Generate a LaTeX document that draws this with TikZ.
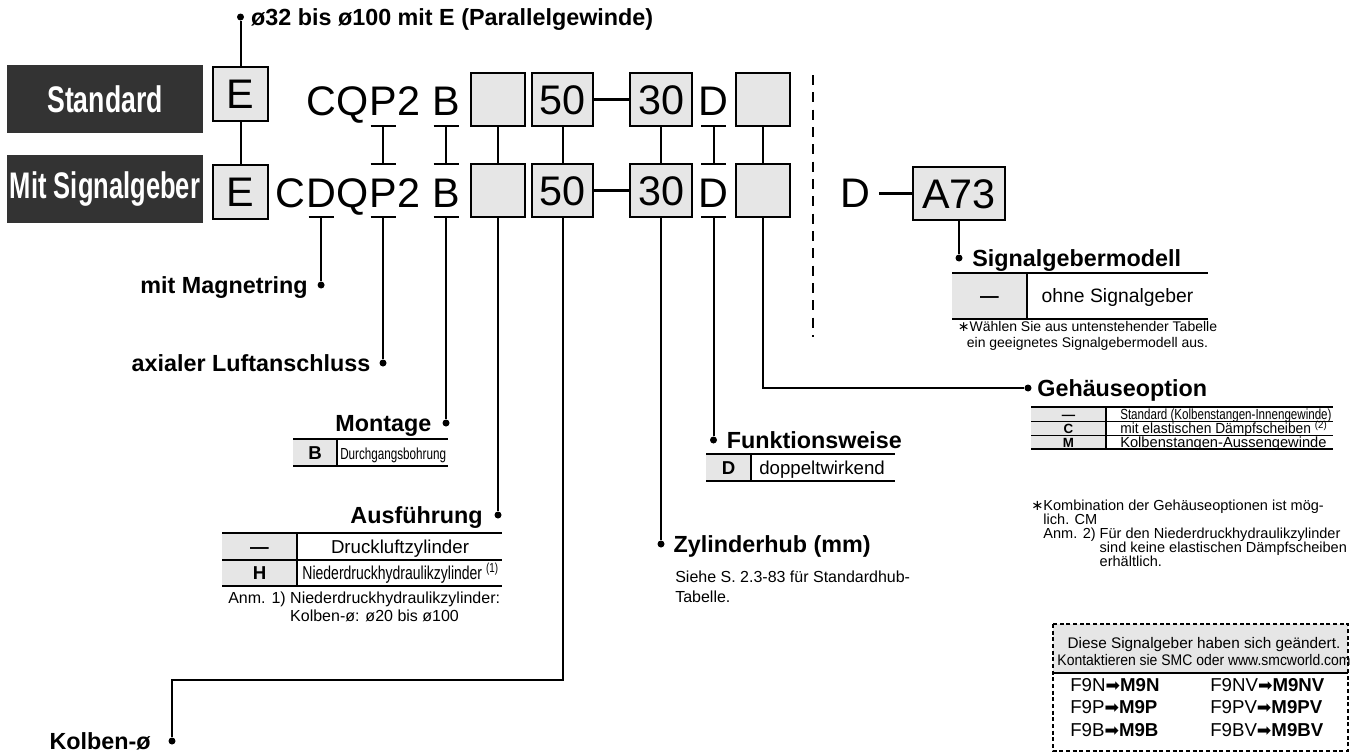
\documentclass[tikz,border=0pt]{standalone}
\usepackage{fontspec}
\setmainfont{Liberation Sans}
\newfontfamily\symfont{DejaVu Sans}
\usepackage{graphicx}
\usetikzlibrary{positioning, calc}
\definecolor{cellgray}{HTML}{E6E6E6}
\definecolor{tagdark}{HTML}{333333}
\newcommand{\fsz}[2]{\fontsize{#1}{#2}\selectfont}
\newcommand{\squeeze}[2]{\scalebox{#1}[1]{#2}}
\newcommand{\starmark}{{\symfont ∗}}
\newcommand{\swaparrow}{{\symfont\fsz{13pt}{13pt}➡}}
\newcommand{\barlink}[2]{%
	\draw[link] ($(#1.base)+(-12.5,11)$) -- ++(25,0)
	($(#1.base)+(0,11)$) -- ($(#2.base)+(0,-43)$)
	($(#2.base)+(-12.5,-43)$) -- ++(25,0);}
\newcommand{\downbar}[2]{%
	\draw[link] ($(#1.base)+(-12.5,10)$) -- ++(25,0)
	($(#1.base)+(0,10)$) -- (#2);}
\tikzset{
	link/.style={line width=1.5pt},
	heavylink/.style={line width=2.4pt},
	optbox/.style={draw, line width=1.5pt, fill=cellgray, minimum width=40.5pt, minimum height=39.75pt, inner sep=0pt, text height=22.2pt, text depth=0pt, font=\fsz{31pt}{31pt}},
	code/.style={inner sep=0pt, anchor=base, font=\fsz{31pt}{31pt}},
	tagbox/.style={fill=tagdark, text=white, minimum width=147pt, minimum height=51pt, inner sep=0pt, font=\bfseries\fsz{27.75pt}{27.75pt}},
	dot/.style={circle, fill, inner sep=0pt, minimum size=5.25pt},
	lbl/.style={inner sep=0pt, text height=12.5pt, text depth=0pt, font=\bfseries\fsz{17.5pt}{20pt}},
	cellkey/.style={inner sep=0pt, text height=10pt, text depth=0pt, font=\bfseries\fsz{14pt}{14pt}},
	celltxt/.style={inner sep=0pt, text height=10pt, text depth=0pt, font=\fsz{14pt}{14pt}},
	smallkey/.style={cellkey, text height=7.2pt, font=\bfseries\fsz{10pt}{10pt}},
	smalltxt/.style={celltxt, anchor=west, text height=7.8pt, font=\fsz{11pt}{11pt}},
	swapitem/.style={inner sep=0pt, anchor=west, font=\fsz{14pt}{14pt}},
	thickrule/.style={line width=1.6pt},
	thinrule/.style={line width=0.8pt},
	note/.style={inner sep=0pt, align=left, font=\fsz{12pt}{13.5pt}}
}
\begin{document}
\begin{tikzpicture}[x=0.75pt, y=-0.75pt]
	\useasboundingbox (0,0) rectangle (1358,753);

	\node[tagbox] (tagStd) at (105,99) {\squeeze{0.72}{Standard}};
	\node[tagbox] (tagSig) at (105,189) {\squeeze{0.69}{Mit Signalgeber}};

	\begin{scope}
		\node[optbox, minimum width=41.25pt, minimum height=40.5pt] (eT) at (240.5,94) {E};
		\node[code] (pT) at (383,115) {P};
		\node[code, base left=0pt of pT] (cqT) {CQ};
		\node[code, base right=0pt of pT] (twoT) {2};
		\node[code] (bT) at (446,115) {B};
		\node[optbox] (emT) at (498,99.5) {};
		\node[optbox, minimum width=46pt] (fiftyT) at (562.5,99.5) {50};
		\node[optbox, minimum width=46pt] (thirtyT) at (661,99.5) {30};
		\node[code] (dT) at (713.5,115) {D};
		\node[optbox] (caseT) at (763,99.5) {};
	\end{scope}

	\begin{scope}
		\node[optbox, minimum width=41.25pt, minimum height=40.5pt] (eB) at (240.5,192) {E};
		\node[code] (pB) at (383,207) {P};
		\node[code, base left=0pt of pB] (qB) {Q};
		\node[code, base left=0pt of qB] (dmB) {D};
		\node[code, base left=0pt of dmB] (cB) {C};
		\node[code, base right=0pt of pB] (twoB) {2};
		\node[code] (bB) at (446,207) {B};
		\node[optbox] (emB) at (498,190.5) {};
		\node[optbox, minimum width=46pt] (fiftyB) at (562.5,190.5) {50};
		\node[optbox, minimum width=46pt] (thirtyB) at (661,190.5) {30};
		\node[code] (dB) at (713.5,207) {D};
		\node[optbox] (caseB) at (763,190.5) {};
		\node[code] (dR) at (855,207) {D};
		\node[optbox, minimum width=69pt] (a73) at (959,193.5) {A73};
	\end{scope}

	\draw[link, dash pattern=on 7.5pt off 5.5pt] (813,75) -- (813,337);

	\draw[heavylink] (fiftyT) -- (thirtyT);
	\draw[heavylink] (fiftyB) -- (thirtyB);
	\draw[heavylink] ([xshift=6.5pt]dR.east |- a73.west) -- (a73.west);

	\draw[link] (eT) -- (eB);
	\draw[link] (emT) -- (emB);
	\draw[link] (fiftyT) -- (fiftyB);
	\draw[link] (thirtyT) -- (thirtyB);
	\draw[link] (caseT) -- (caseB);
	\barlink{pT}{pB}
	\barlink{bT}{bB}
	\barlink{dT}{dB}

	\node[dot] (dotPar) at (eT |- 0,17) {};
	\node[dot] (dotMag) at (dmB.base |- 0,285) {};
	\node[dot] (dotAx) at (pB.base |- 0,363) {};
	\node[dot] (dotMon) at (bB.base |- 0,423) {};
	\node[dot] (dotAus) at (emB |- 0,515) {};
	\node[dot] (dotKol) at (172,741) {};
	\node[dot] (dotHub) at (thirtyB |- 0,544) {};
	\node[dot] (dotFkt) at (dB.base |- 0,440) {};
	\node[dot] (dotGeh) at (1028,388) {};
	\node[dot] (dotSig) at (a73 |- 0,258) {};
	\coordinate (kolKnee) at (fiftyB |- 0,680);

	\draw[link] (dotPar) -- (eT);
	\downbar{dmB}{dotMag}
	\downbar{pB}{dotAx}
	\downbar{bB}{dotMon}
	\downbar{dB}{dotFkt}
	\draw[link] (emB) -- (dotAus);
	\draw[link] (fiftyB) -- (kolKnee) -| (dotKol);
	\draw[link] (thirtyB) -- (dotHub);
	\draw[link] (caseB) |- (dotGeh);
	\draw[link] (a73) -- (dotSig);

	\node[lbl, right=5pt of dotPar] (lblPar) {ø32 bis ø100 mit E (Parallelgewinde)};
	\node[lbl, left=7pt of dotMag] (lblMag) {mit Magnetring};
	\node[lbl, left=6.5pt of dotAx] (lblAx) {axialer Luftanschluss};
	\node[lbl, left=8pt of dotMon] (lblMon) {Montage};
	\node[lbl, left=8.5pt of dotAus] (lblAus) {Ausführung};
	\node[lbl, left=13pt of dotKol] (lblKol) {Kolben-ø};
	\node[lbl, right=6.5pt of dotHub] (lblHub) {Zylinderhub (mm)};
	\node[lbl, right=7pt of dotFkt] (lblFkt) {Funktionsweise};
	\node[lbl, right=4pt of dotGeh] (lblGeh) {Gehäuseoption};
	\node[lbl, right=7pt of dotSig] (lblSig) {Signalgebermodell};

	% Montage
	\fill[cellgray] (293,439) rectangle (337,466);
	\draw[thinrule] (293,466) -- (448,466) (337,439) -- (337,466);
	\draw[thickrule] (293,439) -- (448,439);
	\node[cellkey] (monKey) at (315,452.5) {B};
	\node[celltxt, anchor=west, font=\fsz{12pt}{12pt}] (monTxt) at (340,452.5) {\squeeze{0.73}{Durchgangsbohrung}};

	% Ausfuehrung
	\fill[cellgray] (222,533) rectangle (297,586);
	\draw[thinrule] (222,560) -- (502,560) (222,586) -- (502,586) (297,533) -- (297,586);
	\draw[thickrule] (222,533) -- (502,533);
	\node[cellkey] (ausKeyA) at (259.5,546.5) {—};
	\node[celltxt] (ausTxtA) at (400,546.5) {Druckluftzylinder};
	\node[cellkey] (ausKeyB) at (259.5,573) {H};
	\node[celltxt] (ausTxtB) at (400.5,573) {\squeeze{0.75}{Niederdruckhydraulikzylinder \textsuperscript{(1)}}};
	\node[note, anchor=north west] (ausNote) at (228,592) {Anm. 1) Niederdruckhydraulikzylinder:\\\phantom{Anm. 1)} Kolben-ø: ø20 bis ø100};

	% Funktionsweise
	\fill[cellgray] (706,454) rectangle (751,481);
	\draw[thinrule] (706,481) -- (895,481) (751,454) -- (751,481);
	\draw[thickrule] (706,454) -- (895,454);
	\node[cellkey] (fktKey) at (728.5,467.5) {D};
	\node[celltxt, anchor=west] (fktTxt) at (759,467.5) {doppeltwirkend};

	\node[note, anchor=north west, font=\fsz{12pt}{15pt}] (hubNote) at (675,571) {Siehe S. 2.3-83 für Standardhub-\\Tabelle.};

	% Signalgeber
	\fill[cellgray] (952,273) rectangle (1027,319);
	\draw[thinrule] (952,319) -- (1208,319) (1027,273) -- (1027,319);
	\draw[thickrule] (952,273) -- (1208,273);
	\node[cellkey] (sigKey) at (989.5,296) {—};
	\node[celltxt, font=\fsz{14.5pt}{14.5pt}] (sigTxt) at (1117.5,296) {ohne Signalgeber};
	\node[note, align=center, anchor=north, font=\fsz{10.5pt}{12pt}] (sigNote) at (1087.5,321) {\starmark Wählen Sie aus untenstehender Tabelle\\ein geeignetes Signalgebermodell aus.};

	% Gehaeuse
	\fill[cellgray] (1031,407) rectangle (1106,449);
	\draw[thinrule] (1031,421.7) -- (1333,421.7) (1031,435.3) -- (1333,435.3) (1031,449) -- (1333,449) (1106,407) -- (1106,449);
	\draw[thickrule] (1031,407) -- (1333,407);
	\node[smallkey] (gehKeyA) at (1068.5,414.5) {—};
	\node[smallkey] (gehKeyB) at (1068.5,428.5) {C};
	\node[smallkey] (gehKeyC) at (1068.5,442.2) {M};
	\node[smalltxt] (gehTxtA) at (1120,414.5) {\squeeze{0.79}{Standard (Kolbenstangen-Innengewinde)}};
	\node[smalltxt] (gehTxtB) at (1120,428.5) {\squeeze{0.94}{mit elastischen Dämpfscheiben \textsuperscript{(2)}}};
	\node[smalltxt] (gehTxtC) at (1120,442.2) {Kolbenstangen-Aussengewinde};
	\node[note, anchor=north west, font=\fsz{10.9pt}{10.5pt}] (gehNote) at (1031,500) {\starmark Kombination der Gehäuseoptionen ist mög-\\\phantom{\starmark}lich. CM\\\phantom{\starmark}Anm. 2) Für den Niederdruckhydraulikzylinder\\\phantom{\starmark Anm. 2)} sind keine elastischen Dämpfscheiben\\\phantom{\starmark Anm. 2)} erhältlich.};

	% geaenderte Signalgeber
	\fill[cellgray] (1053,624) rectangle (1348,673);
	\draw[thinrule] (1053,673) -- (1348,673);
	\draw[line width=1.2pt, dash pattern=on 3pt off 2pt] (1053,624) rectangle (1348,751);
	\node[inner sep=0pt, align=center, font=\fsz{11.5pt}{12.75pt}] (chgHead) at (1204,651.5) {Diese Signalgeber haben sich geändert.\\\squeeze{0.91}{Kontaktieren sie SMC oder www.smcworld.com}};
	\node[swapitem] (chgA) at (1070,685) {F9N\swaparrow\textbf{M9N}};
	\node[swapitem] (chgB) at (1070,707) {F9P\swaparrow\textbf{M9P}};
	\node[swapitem] (chgC) at (1070,730) {F9B\swaparrow\textbf{M9B}};
	\node[swapitem] (chgD) at (1210,685) {F9NV\swaparrow\textbf{M9NV}};
	\node[swapitem] (chgE) at (1210,707) {F9PV\swaparrow\textbf{M9PV}};
	\node[swapitem] (chgF) at (1210,730) {F9BV\swaparrow\textbf{M9BV}};

\end{tikzpicture}
\end{document}
